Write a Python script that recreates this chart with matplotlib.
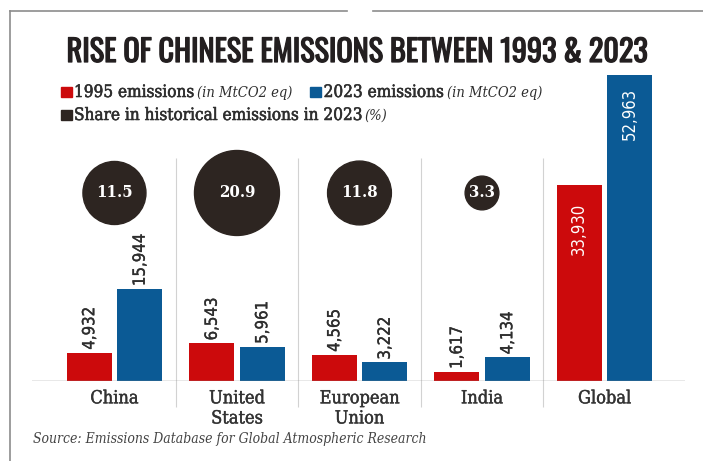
import numpy as np
import matplotlib
matplotlib.use("Agg")
import matplotlib.pyplot as plt
import matplotlib.patheffects as pe
from matplotlib.patches import Rectangle
from matplotlib.lines import Line2D

categories = ["China", "United\nStates", "European\nUnion", "India", "Global"]
emissions_1995 = [4932, 6543, 4565, 1617, 33930]
emissions_2023 = [15944, 5961, 3222, 4134, 52963]
hist_share = [11.5, 20.9, 11.8, 3.3]   # no bubble for Global

RED = "#cc0a0c"
BLUE = "#0b5a95"
DARK = "#2d2521"
TXT = "#2e2e2e"
SERIF = dict(family="DejaVu Serif", fontstretch="condensed")
SANS = dict(family="DejaVu Sans", fontstretch="condensed")

W, H = 703, 461


def fx(px):
    return px / W


def fy(py):
    return 1 - py / H


def heavy(lw, color):
    return [pe.withStroke(linewidth=lw, foreground=color)]


fig = plt.figure(figsize=(7.03, 4.61), dpi=100)
ax = fig.add_axes([fx(32), fy(381), (685 - 32) / W, (381 - 60) / H])

x = np.arange(len(categories))
bw = 0.367
off = 0.206
ax.bar(x - off, emissions_1995, bw, color=RED, zorder=2)
ax.bar(x + off, emissions_2023, bw, color=BLUE, zorder=2)

# value labels, rotated; the tall Global bars carry them inside
for xs, vals, inner in ((x - off, emissions_1995, -13), (x + off, emissions_2023, -9)):
    for xi, v in zip(xs, vals):
        if v > 30000:
            ax.annotate(f"{v:,}", (xi, v), xytext=(0, inner), textcoords="offset points",
                        rotation=90, ha="center", va="top", color="white",
                        fontsize=12, **SANS)
        else:
            ax.annotate(f"{v:,}", (xi, v), xytext=(0, 2), textcoords="offset points",
                        rotation=90, ha="center", va="bottom", color=TXT,
                        fontsize=12, path_effects=heavy(0.25, TXT), **SANS)

# bubbles: area proportional to share
bub_y = 32540
ax.scatter(x[:len(hist_share)], [bub_y] * len(hist_share),
           s=[179 * s for s in hist_share], color=DARK, zorder=3, clip_on=False)
for xi, s in zip(x, hist_share):
    ax.text(xi, bub_y, f"{s}", ha="center", va="center", color="white",
            fontsize=12, fontweight="bold", zorder=4, **SERIF)

# separators between groups
ax.vlines(x[:-1] + 0.5, -4500, 38600, color="#d2d2d2", lw=0.8, clip_on=False, zorder=1)
ax.axhline(0, color="#8a8a8a", lw=1.0, zorder=3)

ax.set_xlim(-0.673, 4.657)
ax.set_ylim(0, 55556)
ax.set_yticks([])
ax.set_xticks(x, categories)
ax.tick_params(axis="x", length=0, pad=6)
for lab in ax.get_xticklabels():
    lab.set_fontsize(13)
    lab.set_family("DejaVu Serif")
    lab.set_fontstretch("condensed")
    lab.set_color("#333333")
    lab.set_linespacing(1.15)
    lab.set_path_effects(heavy(0.3, "#333333"))
for sp in ax.spines.values():
    sp.set_visible(False)

# title
fig.text(fx(357), fy(62), "RISE OF CHINESE EMISSIONS BETWEEN 1993 & 2023",
         ha="center", va="baseline", fontsize=21.8, color="#231f20",
         family=["Oswald", "Roboto Condensed", "DejaVu Sans"],
         path_effects=heavy(0.9, "#231f20"))

# legend
renderer = fig.canvas.get_renderer()


def chain(x_px, y_px, parts):
    for s, kw, gap in parts:
        t = fig.text(fx(x_px), fy(y_px), s, ha="left", va="baseline", color=TXT, **kw)
        bb = t.get_window_extent(renderer)
        x_px = bb.x1 + gap
    return x_px


def square(x_px, y_px, color):
    fig.add_artist(Rectangle((fx(x_px), fy(y_px)), 11 / W, 10 / H,
                             transform=fig.transFigure, color=color))


big = dict(fontsize=12.3, path_effects=heavy(0.4, TXT), **SERIF)
small = dict(fontsize=10.5, style="italic", **SERIF)
square(61, 97, RED)
end = chain(74, 97, [("1995 emissions", big, 3), ("(in MtCO2 eq)", small, 0)])
square(end + 17, 97, BLUE)
chain(end + 31, 97, [("2023 emissions", big, 3), ("(in MtCO2 eq)", small, 0)])
square(61, 120, DARK)
chain(74, 120, [("Share in historical emissions in 2023", big, 3), ("(%)", small, 0)])

# source
fig.text(fx(33), fy(443), "Source: Emissions Database for Global Atmospheric Research",
         ha="left", va="baseline", fontsize=10, style="italic", color="#444444", **SERIF)

# outer frame of the clipping
frame = dict(transform=fig.transFigure, color="#8c8c8c", lw=1.2)
fig.add_artist(Line2D([fx(10), fx(10)], [fy(11), 0], **frame))
fig.add_artist(Line2D([fx(10), fx(347)], [fy(11), fy(11)], **frame))
fig.add_artist(Line2D([fx(373), 1], [fy(11), fy(11)], **frame))

fig.savefig("out.png", dpi=100)
